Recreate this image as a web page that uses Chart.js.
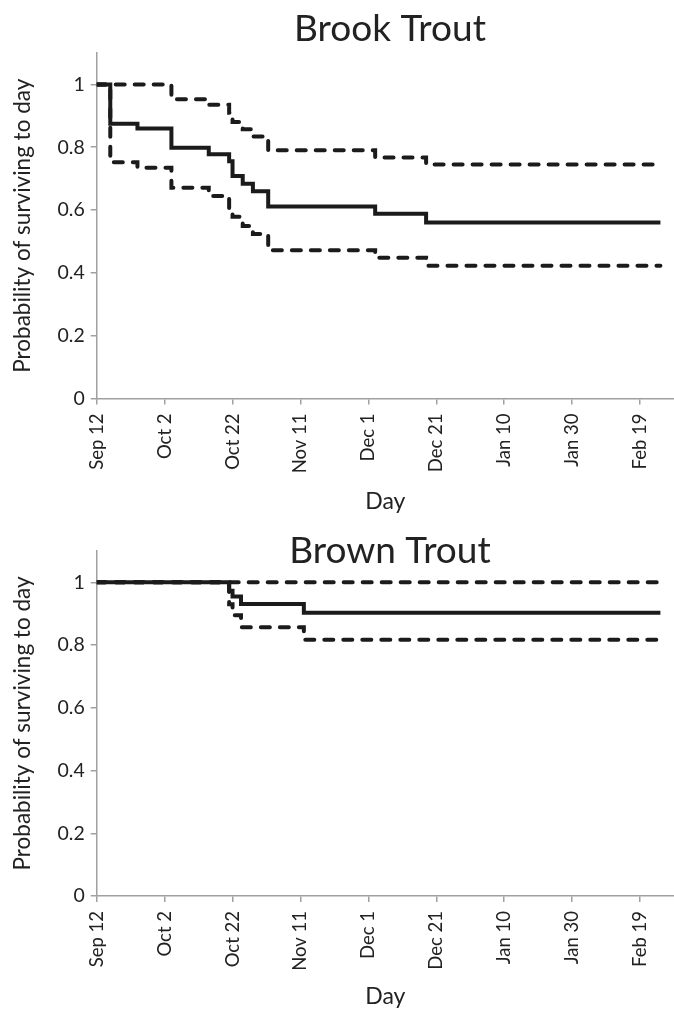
<!DOCTYPE html>
<html><head><meta charset="utf-8">
<script src="https://cdn.jsdelivr.net/npm/chart.js@4.4.1/dist/chart.umd.min.js"></script>
<style>
html,body{margin:0;padding:0;background:#fff;}
#wrap{position:relative;width:674px;height:1012px;}
.box{position:absolute;left:0;width:674px;}
#b1{top:0;height:520px;}
#b2{top:520px;height:492px;}
</style></head><body>
<div id="wrap">
<div class="box" id="b1"><canvas id="c1"></canvas></div>
<div class="box" id="b2"><canvas id="c2"></canvas></div>
</div>
<script>
// ---- data ----
const tickDays = [0, 20, 40, 60, 80, 100, 120, 140, 160];
const tickLabels = ['Sep 12', 'Oct 2', 'Oct 22', 'Nov 11', 'Dec 1', 'Dec 21', 'Jan 10', 'Jan 30', 'Feb 19'];
const yTickValues = [0, 0.2, 0.4, 0.6, 0.8, 1];
const yTickLabels = ['0', '0.2', '0.4', '0.6', '0.8', '1'];

const brookDays     = [0, 4, 12, 22, 33, 39, 40, 43, 46, 50.5, 82, 97, 166];
const brookSurvival = [1, 0.875, 0.86, 0.798, 0.778, 0.755, 0.708, 0.684, 0.66, 0.611, 0.588, 0.56, 0.56];
const brookUpper    = [1, 1, 1, 0.953, 0.935, 0.91, 0.88, 0.857, 0.834, 0.79, 0.767, 0.745, 0.745];
const brookLower    = [1, 0.752, 0.735, 0.671, 0.645, 0.605, 0.579, 0.549, 0.524, 0.472, 0.448, 0.423, 0.423];

const brownDays     = [0, 39, 40, 42.5, 61, 166];
const brownSurvival = [1, 0.973, 0.955, 0.931, 0.903, 0.903];
const brownUpper    = [1, 1, 1, 1, 1, 1];
const brownLower    = [1, 0.93, 0.895, 0.857, 0.817, 0.817];

// ---- styling ----
const FONT = 'Lato';
const TXT = '#222222';
const AXIS = '#a0a0a0';
const LINE = '#1b1b1b';

function pts(xs, ys) { return xs.map((x, i) => ({x: x, y: ys[i]})); }

const titlePlugin = {
  id: 'panelTitle',
  afterDraw(chart, args, opts) {
    const ctx = chart.ctx;
    ctx.save();
    ctx.font = opts.size + 'px ' + FONT;
    ctx.fillStyle = TXT;
    ctx.textAlign = 'center';
    ctx.textBaseline = 'alphabetic';
    ctx.fillText(opts.text, opts.x, opts.y);
    ctx.restore();
  }
};

function makeChart(id, title, days, est, up, lo, L) {
  const ds = (data, dash) => ({
    data: data, stepped: true, borderColor: LINE, borderWidth: 4,
    borderDash: dash, borderCapStyle: dash.length ? 'round' : 'butt', borderJoinStyle: 'miter',
    pointRadius: 0, fill: false, tension: 0
  });
  return new Chart(document.getElementById(id), {
    type: 'line',
    data: { datasets: [ ds(pts(days, est), []), ds(pts(days, up), [9, 10]), ds(pts(days, lo), [9, 10]) ] },
    options: {
      responsive: true, maintainAspectRatio: false, animation: false,
      layout: { padding: { top: L.top, left: 0, right: 0, bottom: 0 } },
      plugins: { legend: { display: false }, tooltip: { enabled: false },
        panelTitle: { text: title, x: L.titleX, y: L.titleY, size: 37 } },
      scales: {
        x: {
          type: 'linear', min: 0, max: 170,
          afterBuildTicks: s => { s.ticks = tickDays.map(v => ({value: v})); },
          afterFit: s => { s.height = L.xh; },
          ticks: { autoSkip: false, maxRotation: 90, minRotation: 90, padding: 9,
            color: TXT, font: { family: FONT, size: 18.5 },
            callback: (v, i) => tickLabels[i] },
          grid: { drawOnChartArea: false, color: AXIS, lineWidth: 1.5, tickLength: 6 },
          border: { color: AXIS, width: 1.5 },
          title: { display: true, text: 'Day', color: TXT, font: { family: FONT, size: 23 }, padding: { top: 0, bottom: L.dayPad } }
        },
        y: {
          type: 'linear', min: 0, max: 1.1,
          afterBuildTicks: s => { s.ticks = yTickValues.map(v => ({value: v})); },
          afterFit: s => { s.width = 96.7; },
          ticks: { padding: 6, color: TXT, font: { family: FONT, size: 19.5 },
            callback: (v, i) => yTickLabels[i] },
          grid: { drawOnChartArea: false, color: AXIS, lineWidth: 1.5, tickLength: 6 },
          border: { color: AXIS, width: 1.5 },
          title: { display: true, text: 'Probability of surviving to day', color: TXT,
            font: { family: FONT, size: 22.5 }, padding: { top: 9, bottom: 0 } }
        }
      }
    },
    plugins: [titlePlugin]
  });
}

makeChart('c1', 'Brook Trout', brookDays, brookSurvival, brookUpper, brookLower,
  { top: 53, xh: 121.5, dayPad: 5, titleX: 390, titleY: 41 });
makeChart('c2', 'Brown Trout', brownDays, brownSurvival, brownUpper, brownLower,
  { top: 31, xh: 116, dayPad: 2, titleX: 390, titleY: 43 });
</script>
</body></html>
